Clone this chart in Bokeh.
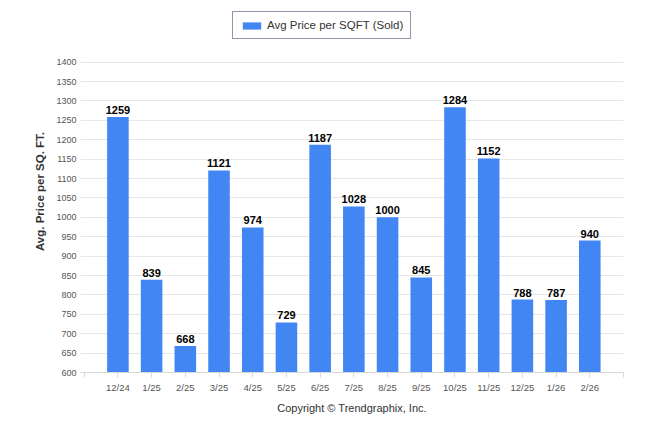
from bokeh.plotting import figure
from bokeh.models import ColumnDataSource, Legend, LegendItem, FixedTicker, Range1d
from bokeh.core.properties import value
from bokeh.embed import file_html
from bokeh.resources import INLINE

months = ["12/24", "1/25", "2/25", "3/25", "4/25", "5/25", "6/25", "7/25",
          "8/25", "9/25", "10/25", "11/25", "12/25", "1/26", "2/26"]
prices = [1259, 839, 668, 1121, 974, 729, 1187, 1028, 1000, 845, 1284, 1152, 788, 787, 940]
y_ticks = list(range(600, 1401, 50))
series_name = "Avg Price per SQFT (Sold)"

FONT = "Liberation Sans"
BLUE = "#4286f4"

idx = list(range(len(months)))
src = ColumnDataSource(dict(x=idx, y=prices, label=[str(v) for v in prices], m=months))

# frame extends above 1400 so the legend can sit inside it (no ticks/grid there)
p = figure(width=630, height=418, output_backend="svg", toolbar_location=None,
           x_range=Range1d(-1.11, 15.0), y_range=Range1d(600, 1533.3),
           min_border_left=80, min_border_right=7, min_border_top=10, min_border_bottom=46)
p.outline_line_color = None
p.background_fill_color = "white"
p.border_fill_color = "white"

r = p.vbar(x="x", top="y", bottom=600, width=0.64, source=src,
           fill_color=BLUE, line_color=None)

p.text(x="x", y="y", text="label", source=src, text_align="center",
       text_baseline="bottom", y_offset=-3, text_font=value(FONT),
       text_font_size="11px", text_font_style="bold", text_color="#000000")

# x axis
p.xaxis.ticker = FixedTicker(ticks=list(range(-1, 16)))
ov = {i: m for i, m in enumerate(months)}
ov[-1] = ""
ov[15] = ""
p.xaxis.major_label_overrides = ov
p.xaxis.major_label_text_font = FONT
p.xaxis.major_label_text_font_size = "9.5px"
p.xaxis.major_label_text_color = "#555555"
p.xaxis.major_tick_out = 5
p.xaxis.major_tick_in = 0
p.xaxis.minor_tick_line_color = None
p.xaxis.major_tick_line_color = "#d8d8d8"
p.xaxis.axis_line_color = "#d8d8d8"
p.xaxis.major_label_standoff = 4
p.xaxis.axis_label = "Copyright \u00a9 Trendgraphix, Inc."
p.xaxis.axis_label_text_font = FONT
p.xaxis.axis_label_text_font_size = "11px"
p.xaxis.axis_label_text_font_style = "normal"
p.xaxis.axis_label_text_color = "#333333"
p.xaxis.axis_label_standoff = 6

# y axis
p.yaxis.ticker = FixedTicker(ticks=y_ticks)
p.yaxis.major_label_text_font = FONT
p.yaxis.major_label_text_font_size = "9px"
p.yaxis.major_label_text_color = "#555555"
p.yaxis.axis_line_color = None
p.yaxis.major_tick_line_color = None
p.yaxis.minor_tick_line_color = None
p.yaxis.major_tick_out = 0
p.yaxis.major_tick_in = 0
p.yaxis.minor_tick_out = 0
p.yaxis.major_label_standoff = 4
p.yaxis.axis_label = "Avg. Price per SQ. FT."
p.yaxis.axis_label_text_font = FONT
p.yaxis.axis_label_text_font_size = "11.5px"
p.yaxis.axis_label_text_font_style = "bold"
p.yaxis.axis_label_text_color = "#333333"
p.yaxis.axis_label_standoff = 7

p.xgrid.grid_line_color = None
p.ygrid.ticker = FixedTicker(ticks=y_ticks)
p.ygrid.grid_line_color = "#e6e6e6"

legend = Legend(items=[LegendItem(label=series_name, renderers=[r])],
                location=(152, 333), margin=0, padding=7,
                glyph_width=23, glyph_height=9, label_height=11,
                label_standoff=4, label_text_font=FONT,
                label_text_font_size="11.5px", label_text_color="#333333",
                border_line_color="#1e2f4f", border_line_width=1,
                background_fill_color="white", background_fill_alpha=1.0)
p.add_layout(legend, "center")

open("out.html", "w").write(file_html(p, INLINE))
